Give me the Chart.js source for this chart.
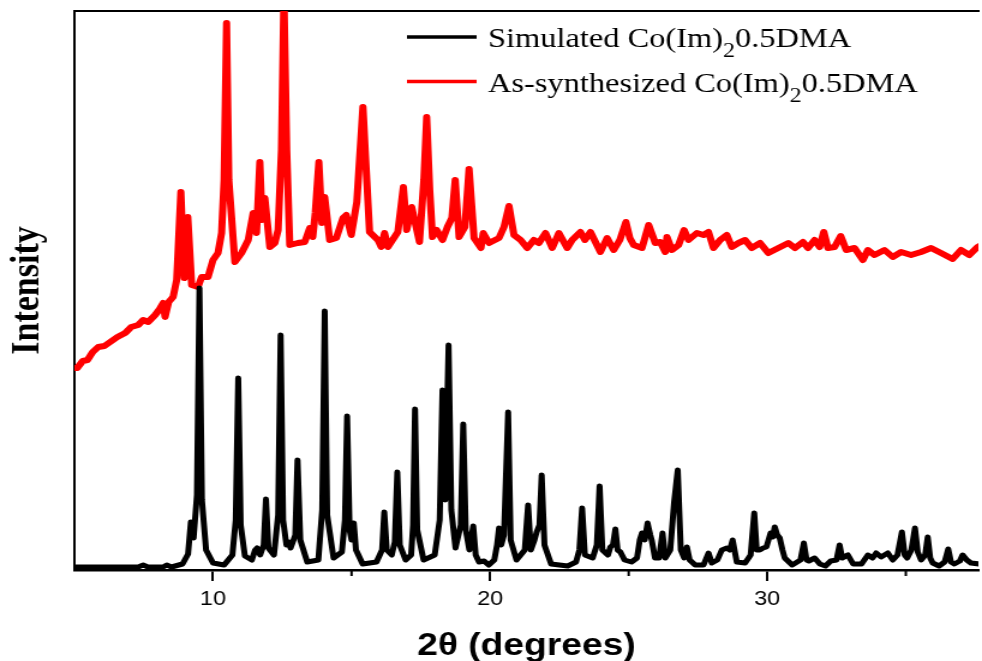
<!DOCTYPE html>
<html>
<head>
<meta charset="utf-8">
<title>PXRD Co(Im)2 0.5DMA</title>
<script src="https://cdn.jsdelivr.net/npm/chart.js@4.4.0/dist/chart.umd.min.js"></script>
<style>
  html, body { margin: 0; padding: 0; background: #fff; overflow: hidden; }
  /* the source figure is stretched horizontally, so the whole chart is too */
  #wrap { width: 818px; height: 661px; transform: scaleX(1.2005); transform-origin: 0 0; }
</style>
</head>
<body>
<div id="wrap"><canvas id="xrd"></canvas></div>
<script>
// x axis: 2-theta in degrees
const xMin = 5;
const xMax = 37.62;
const majorTicks = [10, 20, 30];
const minorTicks = [15, 25, 35];

// intensity in arbitrary units (0 .. 559)
const yMax = 559;

// Simulated pattern [2theta, intensity]
const simulated = [
    [5.0, 3], [7.3, 3], [7.48, 5], [7.65, 3], [8.2, 3], [8.33, 5], [8.5, 3],
    [8.9, 6], [9.1, 16], [9.2, 48], [9.3, 32], [9.42, 75], [9.51, 282], [9.6, 70], [9.75, 20],
    [10.0, 7], [10.4, 5], [10.7, 15], [10.82, 50], [10.91, 192], [11.0, 45], [11.15, 14],
    [11.4, 10], [11.52, 20], [11.59, 22], [11.7, 15], [11.83, 25], [11.91, 71], [12.0, 22],
    [12.2, 15], [12.35, 55], [12.44, 235], [12.53, 50], [12.65, 25], [12.73, 28], [12.8, 22],
    [12.88, 28], [12.97, 35], [13.05, 110], [13.15, 30], [13.4, 8],
    [13.8, 10], [13.94, 60], [14.03, 259], [14.12, 55], [14.35, 12],
    [14.65, 18], [14.76, 50], [14.84, 154], [14.93, 40], [15.0, 30], [15.08, 47], [15.16, 20], [15.4, 6],
    [15.9, 8], [16.1, 20], [16.18, 58], [16.27, 20], [16.45, 15], [16.56, 28], [16.65, 98], [16.74, 25],
    [16.95, 10], [17.15, 15], [17.22, 45], [17.29, 161], [17.37, 40], [17.6, 10],
    [18.0, 15], [18.18, 50], [18.28, 180], [18.38, 70], [18.5, 225], [18.6, 60], [18.75, 22],
    [18.94, 45], [19.03, 146], [19.12, 40], [19.25, 20], [19.39, 44], [19.48, 15], [19.6, 8],
    [19.78, 9], [19.95, 5], [20.15, 10], [20.25, 25], [20.32, 42], [20.4, 25], [20.5, 35],
    [20.65, 158], [20.74, 30], [20.95, 10], [21.25, 20], [21.37, 65], [21.47, 20], [21.6, 30],
    [21.68, 38], [21.78, 45], [21.86, 95], [21.96, 25], [22.2, 6],
    [22.8, 4], [23.1, 8], [23.22, 20], [23.32, 62], [23.42, 15], [23.7, 12], [23.85, 25],
    [23.95, 84], [24.05, 20], [24.25, 15], [24.34, 23], [24.43, 25], [24.52, 41], [24.6, 20],
    [24.7, 18], [24.85, 10], [25.1, 8], [25.3, 12], [25.4, 30], [25.48, 37], [25.58, 30],
    [25.68, 47], [25.78, 35], [25.83, 30], [25.95, 12], [26.1, 12], [26.22, 37], [26.32, 12],
    [26.5, 20], [26.64, 68], [26.77, 100], [26.88, 20], [27.0, 12], [27.1, 23], [27.2, 10],
    [27.4, 5], [27.7, 5], [27.88, 17], [28.0, 7], [28.2, 10], [28.36, 20], [28.54, 22],
    [28.65, 20], [28.75, 30], [28.9, 8], [29.2, 7], [29.4, 15], [29.53, 57], [29.62, 20],
    [29.73, 20], [29.85, 22], [29.97, 23], [30.12, 37], [30.2, 33], [30.27, 43], [30.36, 35],
    [30.45, 32], [30.55, 20], [30.63, 12], [30.9, 5], [31.2, 10], [31.32, 27], [31.42, 10],
    [31.5, 9], [31.71, 12], [31.9, 6], [32.1, 4], [32.29, 9], [32.5, 10], [32.61, 25],
    [32.7, 12], [32.91, 15], [33.1, 6], [33.4, 6], [33.63, 15], [33.8, 12], [33.93, 17],
    [34.11, 13], [34.35, 17], [34.53, 10], [34.7, 15], [34.86, 38], [34.96, 15], [35.05, 12],
    [35.2, 20], [35.33, 42], [35.43, 18], [35.55, 10], [35.7, 15], [35.79, 33], [35.88, 12],
    [35.97, 7], [36.2, 4], [36.4, 8], [36.53, 21], [36.63, 8], [36.75, 6], [36.95, 9],
    [37.05, 15], [37.2, 10], [37.35, 7], [37.65, 6]
];

// As-synthesized pattern [2theta, intensity]
const synthesized = [
    [5.0, 202], [5.1, 202], [5.3, 209], [5.47, 210], [5.66, 218], [5.86, 223], [6.08, 224],
    [6.29, 228], [6.55, 233], [6.83, 237], [7.05, 243], [7.3, 245], [7.48, 250],
    [7.66, 248], [7.91, 255], [8.05, 260], [8.2, 267], [8.27, 253], [8.4, 268], [8.56, 273],
    [8.69, 290], [8.84, 378],
    [8.96, 292], [9.09, 353], [9.23, 285], [9.46, 283], [9.59, 293], [9.82, 293], [10.0, 310],
    [10.18, 317], [10.31, 337], [10.4, 390], [10.49, 547], [10.57, 390], [10.79, 308],
    [11.03, 317], [11.27, 330], [11.45, 357], [11.57, 337], [11.69, 408], [11.77, 350],
    [11.87, 372], [12.05, 323], [12.23, 327], [12.35, 340], [12.47, 420], [12.56, 575],
    [12.66, 420], [12.77, 325], [13.06, 327], [13.31, 328], [13.49, 342], [13.6, 333],
    [13.69, 357], [13.82, 408], [13.93, 347], [14.03, 373], [14.21, 330], [14.45, 332],
    [14.69, 352], [14.81, 355], [14.99, 335], [15.19, 368], [15.31, 420], [15.41, 463],
    [15.51, 410], [15.65, 338], [15.95, 330], [16.07, 323], [16.19, 337], [16.31, 323],
    [16.67, 338], [16.87, 383], [16.99, 340], [17.17, 363], [17.45, 328], [17.61, 390],
    [17.71, 453], [17.82, 380], [17.92, 333], [18.07, 340], [18.28, 330], [18.46, 343],
    [18.62, 352], [18.74, 390], [18.88, 333], [19.09, 343], [19.24, 401], [19.42, 332],
    [19.67, 322], [19.75, 337], [19.96, 327], [20.32, 332], [20.5, 343], [20.68, 364],
    [20.86, 335], [21.1, 330], [21.34, 322], [21.58, 330], [21.76, 327], [22.0, 337],
    [22.24, 322], [22.48, 337], [22.78, 322], [22.96, 330], [23.26, 338], [23.42, 330],
    [23.62, 338], [23.98, 318], [24.22, 332], [24.46, 320], [24.68, 330], [24.9, 348],
    [25.04, 332], [25.18, 325], [25.48, 322], [25.72, 345], [25.96, 327], [26.14, 328],
    [26.32, 318], [26.38, 333], [26.56, 320], [26.8, 325], [27.0, 340], [27.16, 330],
    [27.46, 337], [27.7, 335], [27.88, 338], [28.06, 322], [28.3, 330], [28.54, 335],
    [28.72, 323], [28.96, 327], [29.2, 330], [29.44, 322], [29.74, 327], [30.04, 317],
    [30.4, 322], [30.76, 327], [31.0, 322], [31.29, 328], [31.47, 322], [31.71, 330],
    [31.89, 323], [32.04, 338], [32.19, 322], [32.43, 323], [32.65, 334], [32.85, 320],
    [33.15, 322], [33.45, 310], [33.63, 320], [33.87, 315], [34.23, 320], [34.53, 313],
    [34.83, 318], [35.19, 315], [35.55, 318], [35.91, 322], [36.27, 317], [36.69, 311],
    [36.99, 320], [37.29, 315], [37.59, 323], [37.73, 325]
];

// legend text, split round the subscript
const legendText = [
    { pre: 'Simulated Co(Im)', sub: '2', post: '0.5DMA' },
    { pre: 'As-synthesized Co(Im)', sub: '2', post: '0.5DMA' }
];

const toPoints = arr => arr.map(p => ({ x: p[0], y: p[1] }));

// short minor ticks at 15, 25, 35
const minorTickPlugin = {
    id: 'minorTicks',
    afterDraw(chart) {
        const { ctx } = chart;
        const x = chart.scales.x;
        ctx.save();
        ctx.strokeStyle = '#000';
        ctx.lineWidth = 2;
        minorTicks.forEach(v => {
            const px = x.getPixelForValue(v);
            ctx.beginPath();
            ctx.moveTo(px, x.top);
            ctx.lineTo(px, x.top + 6);
            ctx.stroke();
        });
        ctx.restore();
    }
};

// legend with a lowered "2"
const subLegendPlugin = {
    id: 'subLegend',
    afterDraw(chart) {
        const { ctx } = chart;
        ctx.save();
        chart.data.datasets.forEach((ds, i) => {
            const t = legendText[i];
            const y = 37 + i * 44.5;
            ctx.strokeStyle = ds.borderColor;
            ctx.lineWidth = 3.5;
            ctx.beginPath();
            ctx.moveTo(339, y);
            ctx.lineTo(397, y);
            ctx.stroke();

            ctx.fillStyle = '#000';
            ctx.textBaseline = 'alphabetic';
            let tx = 406.5;
            ctx.font = '27px "Liberation Serif"';
            ctx.fillText(t.pre, tx, y + 10);
            tx += ctx.measureText(t.pre).width;
            ctx.font = '20px "Liberation Serif"';
            ctx.fillText(t.sub, tx, y + 20);
            tx += ctx.measureText(t.sub).width;
            ctx.font = '27px "Liberation Serif"';
            ctx.fillText(t.post, tx, y + 10);
        });
        ctx.restore();
    }
};

new Chart(document.getElementById('xrd'), {
    type: 'line',
    data: {
        datasets: [
            {
                label: 'Simulated Co(Im)2 0.5DMA',
                data: toPoints(simulated),
                borderColor: '#000000',
                borderWidth: 5,
                pointRadius: 0,
                tension: 0,
                clip: 0,
                borderJoinStyle: 'round',
                borderCapStyle: 'round'
            },
            {
                label: 'As-synthesized Co(Im)2 0.5DMA',
                data: toPoints(synthesized),
                borderColor: '#ff0000',
                borderWidth: 6,
                pointRadius: 0,
                tension: 0,
                clip: 0,
                borderJoinStyle: 'round',
                borderCapStyle: 'round'
            }
        ]
    },
    options: {
        responsive: true,
        maintainAspectRatio: false,
        animation: false,
        devicePixelRatio: 1,
        layout: { padding: 0 },
        plugins: {
            legend: { display: false },
            tooltip: { enabled: false }
        },
        scales: {
            x: {
                type: 'linear',
                min: xMin,
                max: xMax,
                afterBuildTicks: s => { s.ticks = majorTicks.map(v => ({ value: v })); },
                afterFit: s => { s.height = 91; },
                ticks: {
                    padding: 7,
                    maxRotation: 0,
                    color: '#000',
                    font: { family: '"Liberation Sans"', size: 19.5 }
                },
                grid: { drawOnChartArea: false, drawTicks: true, tickLength: 11, color: '#000', lineWidth: 2 },
                border: { display: true, color: '#000', width: 2.5 },
                title: {
                    display: true,
                    text: '2θ (degrees)',
                    color: '#000',
                    font: { family: '"Liberation Sans"', size: 31, weight: 'bold' },
                    padding: { top: 0, bottom: -4 }
                }
            },
            x2: {
                type: 'linear',
                position: 'top',
                min: 0,
                max: 1,
                afterFit: s => { s.height = 11; },
                ticks: { display: false },
                grid: { display: false },
                border: { display: true, color: '#000', width: 2 }
            },
            y: {
                min: 0,
                max: yMax,
                afterFit: s => { s.width = 62; },
                ticks: { display: false },
                grid: { display: false },
                border: { display: true, color: '#000', width: 2 },
                title: {
                    display: true,
                    text: 'Intensity',
                    color: '#000',
                    font: { family: '"Liberation Serif"', size: 34, weight: 'bold' },
                    padding: { top: 3, bottom: 0 }
                }
            }
        }
    },
    plugins: [minorTickPlugin, subLegendPlugin]
});
</script>
</body>
</html>
